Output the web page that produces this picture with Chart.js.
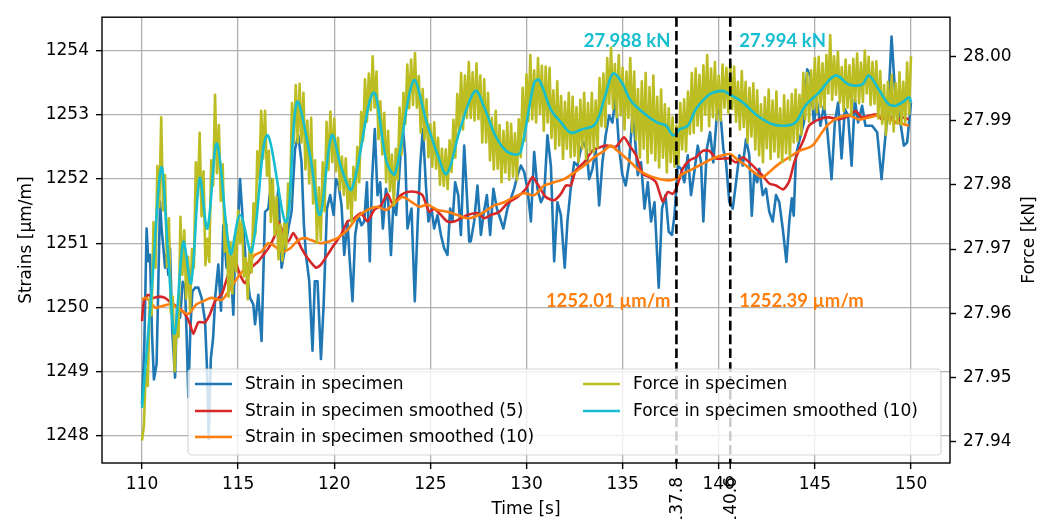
<!DOCTYPE html>
<html>
<head>
<meta charset="utf-8">
<script src="https://cdn.jsdelivr.net/npm/chart.js@4.4.1/dist/chart.umd.min.js"></script>
<style>
  html, body { margin: 0; padding: 0; background: #fff; }
  #wrap { width: 1049px; height: 519px; }
</style>
</head>
<body>
<div id="wrap"><canvas id="chart" width="1049" height="519"></canvas></div>
<script>
// strain / force readings, 110 s .. 150 s

const TIME_TICKS = [110, 115, 120, 125, 130, 135, 140, 145, 150];
const STRAIN_TICKS = [1248, 1249, 1250, 1251, 1252, 1253, 1254];
const FORCE_TICKS = [27.94, 27.95, 27.96, 27.97, 27.98, 27.99, 28.00];

// marker times and the values read there
const MARK_TIMES = [137.8, 140.6];
const FORCE_AT_MARKS = [27.988, 27.994];
const STRAIN_AT_MARKS = [1252.01, 1252.39];

// raw strain (vertices)
const STRAIN_T = [
  110.00, 110.12, 110.24, 110.33, 110.42, 110.52, 110.62, 110.76, 110.94, 111.02,
  111.12, 111.20, 111.28, 111.37, 111.46, 111.58, 111.72, 111.82, 111.98, 112.12,
  112.24, 112.33, 112.41, 112.52, 112.62, 112.76, 112.93, 113.10, 113.28, 113.38,
  113.47, 113.58, 113.70, 113.82, 113.97, 114.11, 114.23, 114.40, 114.58, 114.75,
  114.84, 115.00, 115.10, 115.27, 115.44, 115.62, 115.79, 115.88, 116.05, 116.22,
  116.40, 116.57, 116.74, 116.92, 117.09, 117.26, 117.44, 117.61, 117.78, 117.96,
  118.13, 118.30, 118.42, 118.53, 118.70, 118.87, 118.99, 119.13, 119.31, 119.45,
  119.62, 119.79, 119.97, 120.09, 120.23, 120.38, 120.52, 120.69, 120.81, 120.95,
  121.09, 121.25, 121.42, 121.56, 121.70, 121.85, 121.96, 122.11, 122.25, 122.39,
  122.53, 122.69, 122.81, 122.95, 123.08, 123.22, 123.38, 123.55, 123.69, 123.81,
  124.02, 124.19, 124.33, 124.47, 124.61, 124.77, 124.90, 125.06, 125.20, 125.37,
  125.55, 125.72, 125.89, 126.03, 126.15, 126.29, 126.45, 126.59, 126.76, 126.90,
  127.02, 127.10, 127.28, 127.45, 127.63, 127.76, 127.94, 128.11, 128.28, 128.46,
  128.63, 128.80, 129.01, 129.19, 129.36, 129.53, 129.71, 129.88, 130.05, 130.23,
  130.40, 130.57, 130.75, 130.92, 131.09, 131.27, 131.44, 131.61, 131.79, 131.99,
  132.13, 132.30, 132.48, 132.65, 132.83, 132.96, 133.12, 133.26, 133.43, 133.60,
  133.78, 133.95, 134.12, 134.30, 134.47, 134.64, 134.82, 134.99, 135.16, 135.34,
  135.51, 135.62, 135.79, 135.96, 136.14, 136.31, 136.48, 136.66, 136.88, 137.05,
  137.23, 137.40, 137.57, 137.70, 137.87, 138.04, 138.21, 138.39, 138.56, 138.73,
  138.91, 139.08, 139.20, 139.38, 139.55, 139.72, 139.90, 140.07, 140.24, 140.38,
  140.55, 140.73, 140.90, 141.07, 141.25, 141.42, 141.59, 141.72, 141.85, 142.00,
  142.11, 142.29, 142.46, 142.63, 142.81, 142.98, 143.15, 143.33, 143.52, 143.67,
  143.80, 143.90, 144.02, 144.17, 144.43, 144.60, 144.77, 144.95, 145.12, 145.29,
  145.47, 145.64, 145.87, 146.04, 146.21, 146.39, 146.56, 146.73, 146.91, 147.08,
  147.25, 147.46, 147.63, 147.81, 147.98, 148.24, 148.47, 148.64, 148.81, 148.99,
  149.16, 149.28, 149.45, 149.63, 149.80, 150.00
];
const STRAIN_RAW = [
  1248.5, 1249.4, 1251.23, 1250.72, 1250.82, 1249.6, 1248.88, 1249.12, 1251.65, 1251.23,
  1250.9, 1250.62, 1250.82, 1250.51, 1250.92, 1249.6, 1248.91, 1250.0, 1249.84, 1250.4,
  1250.31, 1249.5, 1248.6, 1249.7, 1250.25, 1250.31, 1250.31, 1250.15, 1249.79, 1249.07,
  1247.95, 1249.2, 1249.53, 1250.2, 1250.67, 1249.95, 1251.28, 1250.62, 1250.87, 1249.89,
  1250.82, 1251.34, 1252.0, 1251.23, 1250.56, 1250.15, 1250.05, 1249.74, 1250.2, 1249.48,
  1251.49, 1251.54, 1252.0, 1251.28, 1251.85, 1250.62, 1250.92, 1251.23, 1251.49, 1252.47,
  1252.68, 1252.26, 1251.3, 1250.82, 1250.41, 1249.33, 1250.41, 1250.41, 1249.2, 1250.05,
  1251.54, 1251.75, 1251.44, 1252.0, 1251.9, 1251.59, 1250.82, 1251.34, 1250.72, 1250.1,
  1251.13, 1251.44, 1251.28, 1251.34, 1251.95, 1250.72, 1251.95, 1252.78, 1251.75, 1251.95,
  1251.23, 1251.85, 1251.64, 1250.82, 1251.64, 1251.44, 1252.06, 1252.88, 1252.37, 1251.23,
  1251.54, 1250.1, 1251.23, 1252.21, 1252.78, 1251.9, 1251.34, 1251.54, 1251.23, 1251.44,
  1251.13, 1250.92, 1250.82, 1251.54, 1251.34, 1251.95, 1251.75, 1251.13, 1252.52, 1251.75,
  1251.03, 1251.03, 1251.34, 1251.9, 1251.13, 1251.44, 1251.75, 1251.13, 1251.85, 1251.54,
  1251.39, 1251.23, 1251.54, 1251.7, 1251.85, 1252.06, 1252.21, 1252.11, 1251.85, 1251.34,
  1252.42, 1251.85, 1251.64, 1251.75, 1252.68, 1252.21, 1250.72, 1251.64, 1251.44, 1250.62,
  1251.34, 1251.85, 1252.26, 1252.21, 1252.47, 1252.57, 1252.47, 1252.0, 1252.16, 1252.47,
  1251.59, 1252.26, 1252.68, 1252.99, 1252.88, 1253.29, 1252.47, 1252.06, 1251.9, 1252.26,
  1252.99, 1252.73, 1252.06, 1252.26, 1251.54, 1251.95, 1251.34, 1251.64, 1250.31, 1251.54,
  1251.75, 1251.18, 1251.13, 1251.44, 1252.21, 1252.16, 1251.95, 1252.37, 1251.75, 1252.11,
  1252.52, 1252.26, 1251.34, 1252.47, 1252.73, 1252.26, 1252.99, 1253.09, 1252.47, 1252.26,
  1251.64, 1251.54, 1251.95, 1252.37, 1252.21, 1252.62, 1252.37, 1251.43, 1252.1, 1251.95,
  1252.16, 1251.75, 1251.85, 1251.49, 1251.34, 1251.75, 1251.64, 1251.23, 1250.71, 1251.34,
  1251.7, 1251.43, 1252.37, 1252.57, 1252.88, 1253.71, 1253.6, 1252.88, 1253.19, 1252.83,
  1253.14, 1252.78, 1252.0, 1252.88, 1253.19, 1252.32, 1253.09, 1252.99, 1252.21, 1253.24,
  1252.88, 1253.14, 1252.83, 1252.83, 1252.83, 1252.73, 1252.0, 1252.57, 1253.09, 1254.22,
  1253.4, 1253.14, 1252.88, 1252.52, 1252.57, 1253.19
];

// strain smoothed over 5 samples
const STRAIN5_T = [
  110.0, 110.1, 110.33, 110.6, 110.85, 111.2, 111.54, 111.9, 112.24, 112.5,
  112.67, 112.93, 113.28, 113.54, 113.8, 114.14, 114.32, 114.58, 114.84, 115.1,
  115.36, 115.7, 116.05, 116.31, 116.57, 116.92, 117.09, 117.35, 117.61, 117.87,
  118.13, 118.3, 118.61, 119.05, 119.31, 119.65, 120.0, 120.35, 120.69, 121.04,
  121.39, 121.73, 122.08, 122.43, 122.77, 123.03, 123.47, 123.81, 124.25, 124.59,
  124.94, 125.2, 125.55, 125.89, 126.24, 126.59, 126.93, 127.45, 127.8, 128.15,
  128.58, 129.0, 129.53, 129.97, 130.31, 130.66, 131.0, 131.44, 131.79, 132.05,
  132.3, 132.56, 133.0, 133.43, 133.86, 134.21, 134.64, 135.08, 135.36, 135.7,
  136.05, 136.4, 136.74, 137.09, 137.35, 137.6, 137.8, 138.13, 138.47, 138.82,
  139.17, 139.51, 139.86, 140.21, 140.55, 140.9, 141.25, 141.59, 141.94, 142.29,
  142.63, 142.98, 143.37, 143.67, 143.93, 144.2, 144.43, 144.69, 145.2, 145.73,
  146.25, 146.77, 147.11, 147.46, 148.15, 148.5, 148.85, 149.2, 149.54, 149.89
];
const STRAIN5 = [
  1249.79, 1250.1, 1250.2, 1250.15, 1250.17, 1250.15, 1250.07, 1250.0, 1249.9, 1249.74,
  1249.59, 1249.77, 1249.77, 1249.9, 1250.1, 1250.2, 1250.36, 1250.59, 1250.72, 1250.51,
  1250.38, 1250.62, 1250.72, 1250.82, 1250.92, 1251.13, 1251.34, 1251.16, 1251.03, 1251.16,
  1251.03, 1250.92, 1250.77, 1250.62, 1250.67, 1250.82, 1250.98, 1251.13, 1251.34, 1251.39,
  1251.47, 1251.34, 1251.52, 1251.59, 1251.77, 1251.62, 1251.75, 1251.8, 1251.8, 1251.75,
  1251.49, 1251.54, 1251.44, 1251.34, 1251.34, 1251.39, 1251.44, 1251.47, 1251.39, 1251.44,
  1251.49, 1251.62, 1251.72, 1251.85, 1252.03, 1251.88, 1251.72, 1251.67, 1251.77, 1251.9,
  1251.9, 1252.13, 1252.26, 1252.44, 1252.5, 1252.52, 1252.5, 1252.65, 1252.52, 1252.37,
  1252.08, 1252.03, 1251.95, 1251.65, 1251.8, 1251.77, 1251.86, 1252.16, 1252.29, 1252.34,
  1252.44, 1252.44, 1252.32, 1252.32, 1252.32, 1252.26, 1252.34, 1252.26, 1252.16, 1252.05,
  1251.93, 1251.9, 1251.84, 1251.97, 1252.26, 1252.47, 1252.62, 1252.83, 1252.93, 1252.96,
  1252.93, 1252.99, 1253.06, 1252.96, 1253.01, 1252.93, 1252.99, 1252.88, 1252.96, 1252.93
];

// strain smoothed over 10 samples
const STRAIN10_T = [
  110.0, 110.24, 110.68, 111.0, 111.54, 112.06, 112.4, 112.84, 113.19, 113.6,
  114.14, 114.5, 114.84, 115.36, 115.88, 116.22, 116.57, 116.92, 117.26, 117.7,
  118.13, 118.47, 118.79, 119.3, 119.74, 120.17, 120.69, 121.21, 121.73, 122.25,
  122.69, 123.12, 123.55, 123.99, 124.42, 124.85, 125.37, 125.89, 126.41, 126.93,
  127.28, 127.8, 128.32, 128.84, 129.36, 129.88, 130.4, 130.92, 131.44, 131.96,
  132.48, 133.0, 133.52, 134.04, 134.38, 134.73, 135.25, 135.6, 135.88, 136.4,
  136.92, 137.43, 137.8, 138.13, 138.65, 139.17, 139.69, 140.21, 140.6, 140.9,
  141.42, 141.94, 142.29, 142.63, 143.15, 143.67, 144.19, 144.86, 145.38, 145.73,
  146.25, 146.77, 147.29, 147.81, 148.33, 148.85, 149.37, 149.89
];
const STRAIN10 = [
  1250.13, 1250.15, 1250.0, 1250.02, 1250.05, 1249.95, 1249.9, 1250.05, 1250.1, 1250.15,
  1250.12, 1250.25, 1250.41, 1250.62, 1250.82, 1250.87, 1251.0, 1250.95, 1250.87, 1250.92,
  1251.05, 1251.08, 1251.05, 1251.0, 1251.03, 1251.08, 1251.21, 1251.41, 1251.52, 1251.57,
  1251.52, 1251.62, 1251.72, 1251.65, 1251.57, 1251.6, 1251.52, 1251.49, 1251.44, 1251.39,
  1251.41, 1251.49, 1251.59, 1251.64, 1251.72, 1251.78, 1251.75, 1251.9, 1251.95, 1252.0,
  1252.1, 1252.21, 1252.34, 1252.44, 1252.52, 1252.44, 1252.31, 1252.21, 1252.13, 1252.05,
  1252.0, 1251.98, 1252.01, 1252.08, 1252.16, 1252.24, 1252.32, 1252.37, 1252.39, 1252.32,
  1252.21, 1252.08, 1252.03, 1252.11, 1252.24, 1252.34, 1252.44, 1252.52, 1252.73, 1252.86,
  1252.96, 1252.99, 1252.93, 1252.96, 1252.99, 1252.93, 1252.88, 1252.83
];

// raw force, one sample every 0.1 s from 110 s
const FORCE_T0 = 110;
const FORCE_DT = 0.1;
const FORCE_RAW = [
  27.9402, 27.9425, 27.9513, 27.9487, 27.9623, 27.9597, 27.9742, 27.9671, 27.9829, 27.9765,
  27.9905, 27.9760, 27.9815, 27.9672, 27.9748, 27.9601, 27.9626, 27.9510, 27.9581, 27.9563,
  27.9750, 27.9660, 27.9729, 27.9623, 27.9688, 27.9604, 27.9700, 27.9671, 27.9835, 27.9782,
  27.9881, 27.9751, 27.9821, 27.9675, 27.9716, 27.9680, 27.9838, 27.9799, 27.9940, 27.9818,
  27.9893, 27.9775, 27.9832, 27.9696, 27.9738, 27.9626, 27.9711, 27.9631, 27.9719, 27.9665,
  27.9760, 27.9709, 27.9748, 27.9657, 27.9686, 27.9622, 27.9703, 27.9664, 27.9771, 27.9724,
  27.9852, 27.9810, 27.9915, 27.9841, 27.9915, 27.9814, 27.9853, 27.9742, 27.9809, 27.9722,
  27.9781, 27.9684, 27.9738, 27.9682, 27.9740, 27.9701, 27.9802, 27.9773, 27.9927, 27.9865,
  27.9955, 27.9866, 27.9957, 27.9866, 27.9943, 27.9824, 27.9900, 27.9802, 27.9904, 27.9771,
  27.9838, 27.9710, 27.9796, 27.9714, 27.9835, 27.9759, 27.9898, 27.9823, 27.9914, 27.9835,
  27.9903, 27.9821, 27.9873, 27.9792, 27.9844, 27.9784, 27.9841, 27.9763, 27.9809, 27.9742,
  27.9828, 27.9776, 27.9859, 27.9804, 27.9913, 27.9869, 27.9964, 27.9898, 27.9973, 27.9916,
  28.0000, 27.9920, 27.9976, 27.9871, 27.9930, 27.9847, 27.9912, 27.9804, 27.9884, 27.9790,
  27.9847, 27.9768, 27.9856, 27.9808, 27.9920, 27.9847, 27.9943, 27.9895, 27.9987, 27.9919,
  27.9995, 27.9924, 28.0005, 27.9920, 27.9969, 27.9881, 27.9949, 27.9870, 27.9933, 27.9843,
  27.9894, 27.9828, 27.9897, 27.9825, 27.9873, 27.9800, 27.9856, 27.9798, 27.9855, 27.9793,
  27.9869, 27.9820, 27.9901, 27.9842, 27.9941, 27.9886, 27.9974, 27.9886, 27.9970, 27.9904,
  27.9991, 27.9904, 27.9975, 27.9900, 27.9989, 27.9902, 27.9970, 27.9866, 27.9964, 27.9866,
  27.9943, 27.9838, 27.9904, 27.9824, 27.9915, 27.9825, 27.9893, 27.9804, 27.9884, 27.9819,
  27.9897, 27.9808, 27.9895, 27.9813, 27.9880, 27.9807, 27.9902, 27.9843, 27.9951, 27.9868,
  27.9972, 27.9899, 28.0002, 27.9902, 27.9978, 27.9897, 27.9997, 27.9910, 27.9985, 27.9884,
  27.9984, 27.9897, 27.9982, 27.9873, 27.9947, 27.9856, 27.9961, 27.9861, 27.9938, 27.9840,
  27.9929, 27.9856, 27.9943, 27.9843, 27.9937, 27.9845, 27.9921, 27.9835, 27.9932, 27.9856,
  27.9943, 27.9840, 27.9927, 27.9851, 27.9943, 27.9851, 27.9931, 27.9858, 27.9966, 27.9891,
  27.9973, 27.9889, 27.9997, 27.9926, 28.0013, 27.9918, 27.9988, 27.9905, 28.0002, 27.9908,
  27.9982, 27.9886, 27.9976, 27.9904, 27.9997, 27.9882, 27.9976, 27.9870, 27.9949, 27.9842,
  27.9961, 27.9856, 27.9974, 27.9834, 27.9952, 27.9849, 27.9970, 27.9838, 27.9937, 27.9827,
  27.9948, 27.9842, 27.9925, 27.9819, 27.9919, 27.9835, 27.9905, 27.9828, 27.9892, 27.9832,
  27.9927, 27.9855, 27.9933, 27.9852, 27.9945, 27.9879, 27.9974, 27.9881, 27.9981, 27.9892,
  27.9971, 27.9884, 27.9986, 27.9909, 28.0002, 27.9891, 27.9981, 27.9905, 27.9991, 27.9901,
  27.9970, 27.9900, 27.9987, 27.9920, 27.9982, 27.9912, 27.9988, 27.9918, 27.9984, 27.9898,
  27.9960, 27.9886, 27.9977, 27.9890, 27.9960, 27.9866, 27.9951, 27.9875, 27.9958, 27.9855,
  27.9947, 27.9846, 27.9925, 27.9835, 27.9936, 27.9857, 27.9948, 27.9840, 27.9931, 27.9852,
  27.9945, 27.9843, 27.9919, 27.9835, 27.9939, 27.9849, 27.9931, 27.9839, 27.9941, 27.9866,
  27.9948, 27.9868, 27.9940, 27.9878, 27.9974, 27.9902, 27.9974, 27.9898, 27.9978, 27.9918,
  27.9997, 27.9913, 27.9999, 27.9921, 27.9989, 27.9918, 28.0002, 27.9942, 28.0033, 27.9932,
  28.0000, 27.9940, 28.0007, 27.9928, 27.9983, 27.9915, 27.9995, 27.9920, 27.9986, 27.9909,
  27.9996, 27.9930, 28.0004, 27.9927, 27.9990, 27.9929, 28.0009, 27.9942, 27.9999, 27.9924,
  27.9991, 27.9926, 27.9992, 27.9903, 27.9977, 27.9895, 27.9955, 27.9878, 27.9960, 27.9895,
  27.9971, 27.9883, 27.9958, 27.9895, 27.9975, 27.9894, 27.9960, 27.9897, 27.9990, 27.9910,
  28.0000
];

// force smoothed over 10 samples
const FORCE10_T = [
  110.0, 110.5, 111.0, 111.35, 111.7, 112.15, 112.55, 113.0, 113.4, 113.9,
  114.6, 115.1, 115.7, 116.5, 117.5, 118.05, 118.74, 119.26, 119.87, 120.39,
  120.91, 122.03, 122.73, 123.16, 124.12, 124.81, 125.33, 125.85, 126.54, 127.33,
  127.85, 128.37, 128.89, 129.4, 129.7, 130.4, 130.66, 131.27, 131.8, 132.3,
  132.86, 133.57, 134.1, 134.5, 134.96, 135.4, 136.08, 136.78, 137.26, 137.6,
  137.8, 137.95, 138.4, 138.8, 139.5, 140.2, 140.6, 141.25, 141.95, 142.8,
  143.5, 144.0, 144.5, 145.2, 146.07, 146.77, 147.46, 147.8, 148.33, 148.85,
  149.2, 149.54, 149.9, 150.0
];
const FORCE10 = [
  27.9453, 27.9634, 27.9827, 27.9696, 27.9568, 27.9711, 27.9647, 27.9810, 27.9732, 27.9864,
  27.9693, 27.9753, 27.9696, 27.9877, 27.9742, 27.9928, 27.9846, 27.9753, 27.9877, 27.9824,
  27.9793, 27.9943, 27.9835, 27.9817, 27.9962, 27.9897, 27.9851, 27.9817, 27.9886, 27.9946,
  27.9917, 27.9877, 27.9854, 27.9847, 27.9851, 27.9959, 27.9963, 27.9917, 27.9897, 27.9881,
  27.9886, 27.9894, 27.9939, 27.9973, 27.9959, 27.9932, 27.9912, 27.9897, 27.9892, 27.9877,
  27.988, 27.9886, 27.9892, 27.9917, 27.9940, 27.9946, 27.994, 27.9928, 27.9909, 27.9894,
  27.9892, 27.9897, 27.9923, 27.9943, 27.9970, 27.9956, 27.9956, 27.9970, 27.9948, 27.9925,
  27.9923, 27.9928, 27.9936, 27.9928
];

const BLUE = '#1f77b4', RED = '#d62728', ORANGE = '#ff7f0e', OLIVE = '#bcbd22', CYAN = '#17becf';
const FONT = '"DejaVu Sans", sans-serif';
const NOTE_FONT = 'bold 18.5px Lato, "DejaVu Sans", sans-serif';

const pairs = (ts, vs) => ts.map((t, i) => ({ x: t, y: vs[i] }));
const forcePoints = FORCE_RAW.map((v, i) => ({ x: FORCE_T0 + i * FORCE_DT, y: v }));

function line(label, data, color, axis, order, tension) {
  return {
    label, data, yAxisID: axis, order,
    borderColor: color, backgroundColor: color,
    borderWidth: 2.6, pointRadius: 0, fill: false,
    tension: tension || 0, borderJoinStyle: 'round'
  };
}

// legend: two columns, strain entries left, force entries right
function drawLegend(ctx, chart) {
  const a = chart.chartArea;
  const left = a.left + 86, right = a.right - 9, bottom = a.bottom - 8, top = bottom - 86;
  ctx.beginPath();
  ctx.roundRect(left, top, right - left, bottom - top, 4);
  ctx.fillStyle = 'rgba(255,255,255,0.8)';
  ctx.fill();
  ctx.strokeStyle = 'rgba(204,204,204,0.8)';
  ctx.lineWidth = 1.2;
  ctx.stroke();

  const colX = [left + 7, left + 395];
  const rowY = [top + 15, top + 42, top + 68];
  ctx.font = '17px ' + FONT;
  ctx.textAlign = 'left';
  ctx.textBaseline = 'middle';
  chart.data.datasets.forEach((ds, i) => {
    const col = i < 3 ? 0 : 1, row = i < 3 ? i : i - 3;
    const x0 = colX[col], y0 = rowY[row];
    ctx.strokeStyle = ds.borderColor;
    ctx.lineWidth = 2.6;
    ctx.beginPath();
    ctx.moveTo(x0, y0);
    ctx.lineTo(x0 + 37, y0);
    ctx.stroke();
    ctx.fillStyle = '#000';
    ctx.fillText(ds.label, x0 + 50, y0 + 1);
  });
}

const overlay = {
  id: 'overlay',
  afterDatasetsDraw(chart) {
    const { ctx, chartArea: a, scales } = chart;
    const x = scales.x, yS = scales.yStrain, yF = scales.yForce;
    ctx.save();

    // axes frame
    ctx.strokeStyle = '#000';
    ctx.lineWidth = 1.4;
    ctx.strokeRect(a.left, a.top, a.right - a.left, a.bottom - a.top);

    // dashed markers
    ctx.lineWidth = 2.6;
    ctx.setLineDash([9.6, 4.2]);
    MARK_TIMES.forEach(t => {
      const px = x.getPixelForValue(t);
      ctx.beginPath();
      ctx.moveTo(px, a.top);
      ctx.lineTo(px, a.bottom);
      ctx.stroke();
    });
    ctx.setLineDash([]);

    // extra ticks with vertical labels
    ctx.lineWidth = 1.4;
    ctx.font = '17px ' + FONT;
    ctx.fillStyle = '#000';
    MARK_TIMES.forEach(t => {
      const px = x.getPixelForValue(t);
      ctx.beginPath();
      ctx.moveTo(px, a.bottom);
      ctx.lineTo(px, a.bottom + 6);
      ctx.stroke();
      ctx.save();
      ctx.translate(px + 1, a.bottom + 14);
      ctx.rotate(-Math.PI / 2);
      ctx.textAlign = 'right';
      ctx.textBaseline = 'middle';
      ctx.fillText(String(t), 0, 0);
      ctx.restore();
    });

    // right axis title, reading upwards
    ctx.save();
    ctx.translate(1030, (a.top + a.bottom) / 2);
    ctx.rotate(-Math.PI / 2);
    ctx.textAlign = 'center';
    ctx.textBaseline = 'middle';
    ctx.fillText('Force [kN]', 0, 0);
    ctx.restore();

    // value notes beside the markers
    ctx.font = NOTE_FONT;
    ctx.textBaseline = 'middle';
    MARK_TIMES.forEach((t, i) => {
      const px = x.getPixelForValue(t);
      const tx = i === 0 ? px - 6 : px + 9;
      ctx.textAlign = i === 0 ? 'right' : 'left';
      ctx.fillStyle = CYAN;
      ctx.fillText(FORCE_AT_MARKS[i].toFixed(3) + ' kN', tx, yF.getPixelForValue(28.0023));
      ctx.fillStyle = ORANGE;
      ctx.fillText(STRAIN_AT_MARKS[i].toFixed(2) + ' µm/m', tx, yS.getPixelForValue(1250.1));
    });

    drawLegend(ctx, chart);
    ctx.restore();
  }
};

const tickFont = { family: FONT, size: 17 };
const titleFont = { family: FONT, size: 17, lineHeight: 1 };

new Chart(document.getElementById('chart'), {
  type: 'line',
  data: {
    datasets: [
      line('Strain in specimen', pairs(STRAIN_T, STRAIN_RAW), BLUE, 'yStrain', 4),
      line('Strain in specimen smoothed (5)', pairs(STRAIN5_T, STRAIN5), RED, 'yStrain', 3, 0.2),
      line('Strain in specimen smoothed (10)', pairs(STRAIN10_T, STRAIN10), ORANGE, 'yStrain', 2, 0.3),
      line('Force in specimen', forcePoints, OLIVE, 'yForce', 1),
      line('Force in specimen smoothed (10)', pairs(FORCE10_T, FORCE10), CYAN, 'yForce', 0, 0.35)
    ]
  },
  options: {
    responsive: false,
    animation: false,
    devicePixelRatio: 1,
    layout: { padding: { top: 14, left: 0, right: 0, bottom: 0 } },
    plugins: { legend: { display: false }, tooltip: { enabled: false } },
    scales: {
      x: {
        type: 'linear',
        min: 107.92, max: 152.03,
        afterBuildTicks: s => { s.ticks = TIME_TICKS.map(v => ({ value: v })); },
        afterFit: s => { s.height = 56; },
        ticks: { font: tickFont, color: '#000', padding: 5, maxRotation: 0, autoSkip: false, callback: v => String(v) },
        grid: { color: '#b0b0b0', lineWidth: 1.3, tickColor: '#000', tickLength: 6, tickWidth: 1.4 },
        border: { display: false },
        title: { display: true, text: 'Time [s]', font: titleFont, color: '#000', padding: { top: 0, bottom: 1 } }
      },
      yStrain: {
        position: 'left',
        min: 1247.58, max: 1254.52,
        afterBuildTicks: s => { s.ticks = STRAIN_TICKS.map(v => ({ value: v })); },
        afterFit: s => { s.width = 102; },
        ticks: { font: tickFont, color: '#000', padding: 7, callback: v => String(v) },
        grid: { color: '#b0b0b0', lineWidth: 1.3, tickColor: '#000', tickLength: 6, tickWidth: 1.4 },
        border: { display: false },
        title: { display: true, text: 'Strains [µm/m]', font: titleFont, color: '#000', padding: { top: 18, bottom: 0 } }
      },
      yForce: {
        position: 'right',
        min: 27.93671, max: 28.00607,
        afterBuildTicks: s => { s.ticks = FORCE_TICKS.map(v => ({ value: v })); },
        afterFit: s => { s.width = 99; },
        ticks: { font: tickFont, color: '#000', padding: 7, callback: v => v.toFixed(2) },
        grid: { drawOnChartArea: false, tickColor: '#000', tickLength: 6, tickWidth: 1.4 },
        border: { display: false },
        title: { display: false }
      }
    }
  },
  plugins: [overlay]
});
</script>
</body>
</html>
